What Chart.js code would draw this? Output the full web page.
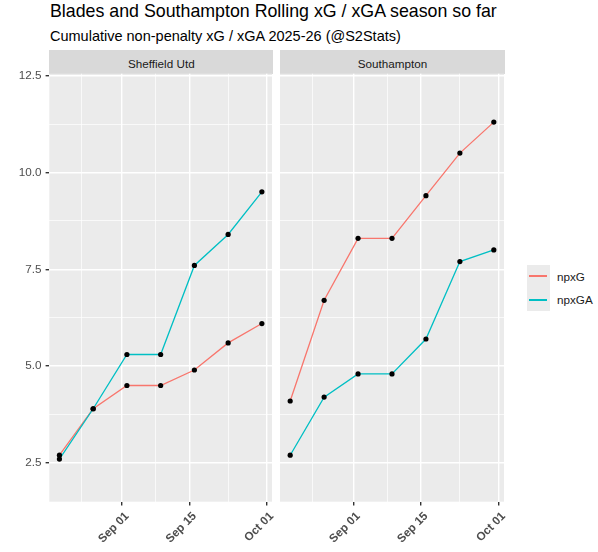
<!DOCTYPE html>
<html>
<head>
<meta charset="utf-8">
<script src="https://cdn.jsdelivr.net/npm/chart.js@4.4.1/dist/chart.umd.min.js"></script>
<style>
  body { margin: 0; background: #fff; font-family: "Liberation Sans", Arial, sans-serif; }
  #wrap { position: relative; width: 598px; height: 552px; overflow: hidden; background: #fff; }
  .abs { position: absolute; white-space: nowrap; }
  #title { left: 50px; top: 3.3px; font-size: 17.8px; line-height: 17.8px; color: #000; }
  #subtitle { left: 50px; top: 28.8px; font-size: 14.5px; line-height: 14.5px; color: #000; }
  .strip { top: 50px; height: 23.7px; background: #D9D9D9; }
  .strip span { position: absolute; left: 0; right: 0; top: 7.8px; text-align: center;
                font-size: 11.7px; line-height: 11.7px; color: #1A1A1A; }
  .key { left: 527px; width: 23px; height: 23px; background: #EBEBEB; }
  .keyline { left: 529px; width: 18px; height: 2px; }
  .keytxt { left: 557px; font-size: 11.7px; line-height: 11.7px; color: #1A1A1A; }
  canvas { position: absolute; top: 0; }
</style>
</head>
<body>
<div id="wrap">
  <div id="title" class="abs">Blades and Southampton Rolling xG / xGA season so far</div>
  <div id="subtitle" class="abs">Cumulative non-penalty xG / xGA 2025-26 (@S2Stats)</div>

  <div class="abs strip" style="left:49.3px;width:224px"><span>Sheffield Utd</span></div>
  <div class="abs strip" style="left:280px;width:225px"><span>Southampton</span></div>

  <canvas id="left" width="276" height="552" style="left:0"></canvas>
  <canvas id="right" width="232" height="552" style="left:276px"></canvas>

  <div class="abs key" style="top:265px"></div>
  <div class="abs key" style="top:288px"></div>
  <div class="abs keyline" style="top:275px;background:#F8766D"></div>
  <div class="abs keyline" style="top:299px;background:#00BFC4"></div>
  <div class="abs keytxt" style="top:271px">npxG</div>
  <div class="abs keytxt" style="top:294px">npxGA</div>
</div>

<script>
// match dates (one point per gameweek)
const dates = ["2025-08-19", "2025-08-26", "2025-09-02", "2025-09-09", "2025-09-16", "2025-09-23", "2025-09-30"];

const sheffieldXG  = [2.7, 3.9, 4.5, 4.5, 4.9, 5.6, 6.1];
const sheffieldXGA = [2.6, 3.9, 5.3, 5.3, 7.6, 8.4, 9.5];
const sotonXG      = [4.1, 6.7, 8.3, 8.3, 9.4, 10.5, 11.3];
const sotonXGA     = [2.7, 4.2, 4.8, 4.8, 5.7, 7.7, 8.0];

// date breaks (Aug 15 sits outside the range, only used for the minor grid)
const xBreakDates  = ["2025-08-15", "2025-09-01", "2025-09-15", "2025-10-01"];
const xBreakLabels = ["Aug 15", "Sep 01", "Sep 15", "Oct 01"];
const yTicks = [2.5, 5, 7.5, 10, 12.5];
const yMin = 1.5, yMax = 12.55;

const day = s => (Date.parse(s + "T00:00:00Z") - Date.parse("2025-08-01T00:00:00Z")) / 86400000;

const xMajor = xBreakDates.map(day);
const xMinor = xMajor.slice(1).map((v, i) => (v + xMajor[i]) / 2);
const yMinor = yTicks.slice(1).map((v, i) => (v + yTicks[i]) / 2);
const span = day(dates[dates.length - 1]) - day(dates[0]);
const xMin = day(dates[0]) - span * 0.05;
const xMax = day(dates[dates.length - 1]) + span * 0.05;

const FONT = "'Liberation Sans', Arial, sans-serif";

const panelBg = {
  id: "panelBg",
  beforeDraw(chart) {
    const { ctx, chartArea: a } = chart;
    ctx.save();
    ctx.fillStyle = "#EBEBEB";
    ctx.fillRect(a.left, a.top, a.right - a.left, a.bottom - a.top);
    ctx.restore();
  }
};

function makePanel(id, xg, xga, showY, pad) {
  const pts = arr => dates.map((d, i) => ({ x: day(d), y: arr[i] }));
  const dot = { showLine: false, pointRadius: 2.6, pointBackgroundColor: "#000", pointBorderWidth: 0, order: 0 };
  return new Chart(document.getElementById(id), {
    type: "line",
    data: {
      datasets: [
        { label: "npxG pts", data: pts(xg), ...dot },
        { label: "npxGA pts", data: pts(xga), ...dot },
        { label: "npxGA", data: pts(xga), borderColor: "#00BFC4", borderWidth: 1.3, pointRadius: 0, tension: 0, order: 1 },
        { label: "npxG", data: pts(xg), borderColor: "#F8766D", borderWidth: 1.3, pointRadius: 0, tension: 0, order: 2 },
      ],
    },
    options: {
      responsive: false,
      animation: false,
      layout: { padding: pad },
      plugins: { legend: { display: false }, tooltip: { enabled: false } },
      scales: {
        x: {
          type: "linear", min: xMin, max: xMax,
          afterBuildTicks: s => {
            s.ticks = xMajor.concat(xMinor).filter(v => v >= xMin && v <= xMax)
              .sort((a, b) => a - b).map(v => ({ value: v }));
          },
          afterFit: s => { s.height = 50.3; s.paddingLeft = 0; s.paddingRight = 0; },
          border: { display: false },
          grid: {
            color: "#FFFFFF",
            lineWidth: c => xMajor.includes(c.tick.value) ? 1.4 : 0.7,
            tickColor: c => xMajor.includes(c.tick.value) ? "#333333" : "rgba(0,0,0,0)",
            tickLength: 3.7,
          },
          ticks: {
            autoSkip: false, minRotation: 45, maxRotation: 45, padding: 4, labelOffset: 5,
            color: "#4D4D4D", font: { family: FONT, size: 11.7, weight: "bold" },
            callback: v => { const i = xMajor.indexOf(v); return i >= 0 ? xBreakLabels[i] : ""; },
          },
        },
        y: {
          min: yMin, max: yMax,
          afterBuildTicks: s => {
            s.ticks = yTicks.concat(yMinor).sort((a, b) => a - b).map(v => ({ value: v }));
          },
          afterFit: s => { s.width = showY ? 49.3 : 0; },
          border: { display: false },
          grid: {
            color: "#FFFFFF",
            drawTicks: showY,
            lineWidth: c => yTicks.includes(c.tick.value) ? 1.4 : 0.7,
            tickColor: c => yTicks.includes(c.tick.value) ? "#333333" : "rgba(0,0,0,0)",
            tickLength: 3.7,
          },
          ticks: {
            display: showY, padding: 4,
            color: "#4D4D4D", font: { family: FONT, size: 11.7 },
            callback: v => yTicks.includes(v) ? v.toFixed(1) : "",
          },
        },
      },
    },
    plugins: [panelBg],
  });
}

makePanel("left", sheffieldXG, sheffieldXGA, true, { top: 73.7, left: 0, right: 2.7, bottom: 0 });
makePanel("right", sotonXG, sotonXGA, false, { top: 73.7, left: 4, right: 3, bottom: 0 });
</script>
</body>
</html>
